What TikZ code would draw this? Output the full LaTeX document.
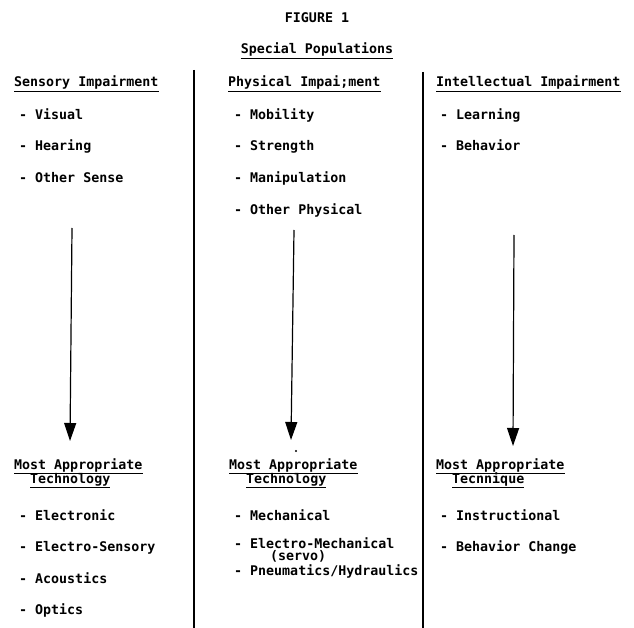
\documentclass[tikz,border=0pt]{standalone}
\usepackage{fontspec}
\setmonofont{DejaVu Sans Mono}
\usetikzlibrary{arrows.meta}
\tikzset{
  txt/.style={font=\ttfamily\bfseries\fontsize{13.3}{13.3}\selectfont, inner sep=0pt, anchor=base west},
  ctxt/.style={txt, anchor=base},
  uline/.style={line width=0.9pt},
  divider/.style={line width=1.3pt},
  flow/.style={line width=1.2pt, -{Triangle[length=18pt,width=12pt]}}
}
\newcommand{\underl}[1]{\draw[uline] ([yshift=-4pt]#1.base west) -- ([yshift=-4pt]#1.base east);}
\begin{document}
\begin{tikzpicture}[x=1pt,y=-1pt]
\useasboundingbox (0,0) rectangle (634,628);

% titles
\node[ctxt] (fig) at (317,23) {FIGURE 1};
\node[ctxt] (sp) at (317,54) {Special Populations};
\underl{sp}

% column dividers
\coordinate (d1t) at (194,70);  \coordinate (d1b) at (194,628);
\coordinate (d2t) at (423,72);  \coordinate (d2b) at (423,628);
\draw[divider] (d1t) -- (d1b);
\draw[divider] (d2t) -- (d2b);

% column headings
\node[txt] (h1) at (14,87) {Sensory Impairment};
\node[txt] (h2) at (228,87) {Physical Impai;ment};
\node[txt] (h3) at (436,87) {Intellectual Impairment};
\underl{h1} \underl{h2} \underl{h3}

% impairment lists
\node[txt] (s1) at (19,120) {- Visual};
\node[txt] (s2) at (19,151) {- Hearing};
\node[txt] (s3) at (19,183) {- Other Sense};
\node[txt] (p1) at (234,120) {- Mobility};
\node[txt] (p2) at (234,151) {- Strength};
\node[txt] (p3) at (234,183) {- Manipulation};
\node[txt] (p4) at (234,215) {- Other Physical};
\node[txt] (i1) at (440,120) {- Learning};
\node[txt] (i2) at (440,151) {- Behavior};

% arrows
\coordinate (a1t) at (72,228);  \coordinate (a1b) at (70,441);
\coordinate (a2t) at (294,230); \coordinate (a2b) at (291,440);
\coordinate (a3t) at (514,235); \coordinate (a3b) at (513,446);
\draw[flow] (a1t) -- (a1b);
\draw[flow] (a2t) -- (a2b);
\draw[flow] (a3t) -- (a3b);

% stray dot
\fill (296,451) circle (1.2pt);

% outcome headings
\node[txt] (m1) at (14,469) {Most Appropriate};
\node[txt] (t1) at (30,483) {Technology};
\node[txt] (m2) at (229,469) {Most Appropriate};
\node[txt] (t2) at (246,483) {Technology};
\node[txt] (m3) at (436,469) {Most Appropriate};
\node[txt] (t3) at (452,483) {Tecnnique};
\underl{m1} \underl{t1} \underl{m2} \underl{t2} \underl{m3} \underl{t3}

% outcome lists
\node[txt] (e1) at (19,520) {- Electronic};
\node[txt] (e2) at (19,551) {- Electro-Sensory};
\node[txt] (e3) at (19,583) {- Acoustics};
\node[txt] (e4) at (19,614) {- Optics};
\node[txt] (k1) at (234,520) {- Mechanical};
\node[txt] (k2) at (234,548) {- Electro-Mechanical};
\node[txt] (k3) at (270,560) {(servo)};
\node[txt] (k4) at (234,575) {- Pneumatics/Hydraulics};
\node[txt] (n1) at (440,520) {- Instructional};
\node[txt] (n2) at (440,551) {- Behavior Change};
\end{tikzpicture}
\end{document}
